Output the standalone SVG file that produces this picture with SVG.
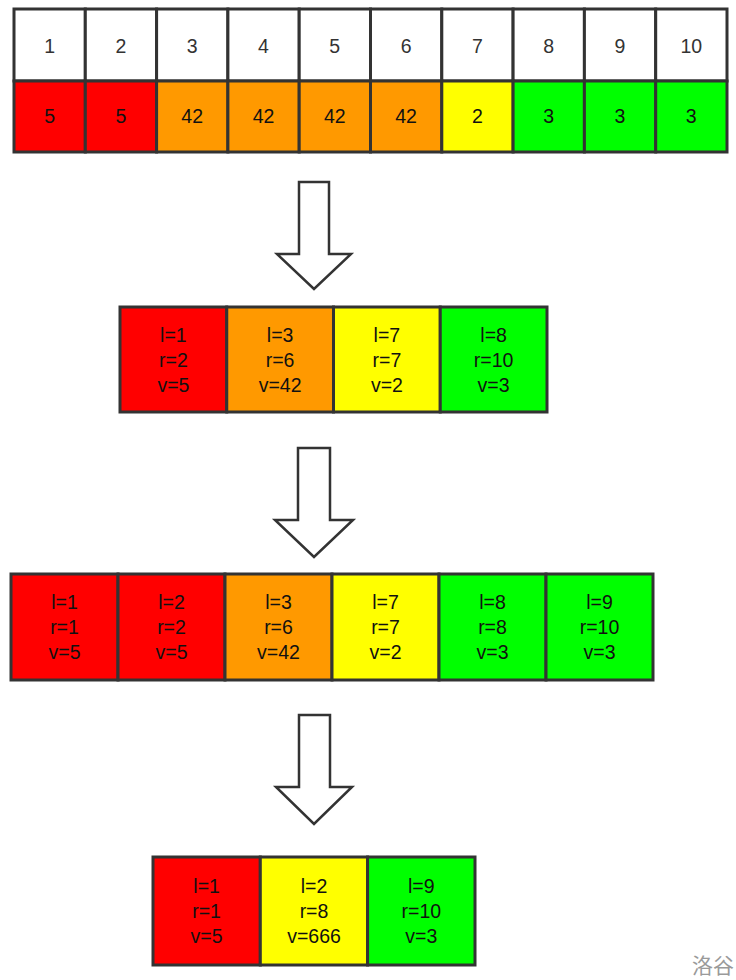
<svg xmlns="http://www.w3.org/2000/svg" width="736" height="980" viewBox="0 0 736 980">
<style>
  .cell { stroke: #333; stroke-width: 3; }
  .w { fill: #ffffff; }
  .red { fill: #ff0000; }
  .org { fill: #ff9900; }
  .yel { fill: #ffff00; }
  .grn { fill: #00ff00; }
  .t { font-family: "Liberation Sans", Arial, sans-serif; font-size: 19.5px; text-anchor: middle; dominant-baseline: central; fill: #111; }
  .th { fill: #333; }
  .arrow { fill: #ffffff; stroke: #333; stroke-width: 2.5; stroke-linejoin: miter; }
  .wm { font-family: "Noto Sans CJK SC", sans-serif; font-size: 21px; fill: #9a9a9a; }
</style>
<rect width="736" height="980" fill="#ffffff"/>

<!-- Top table -->
<g id="array">
  <g id="idx">
    <rect class="cell w" x="14" y="9" width="71.3" height="72"/>
    <rect class="cell w" x="85.3" y="9" width="71.3" height="72"/>
    <rect class="cell w" x="156.6" y="9" width="71.3" height="72"/>
    <rect class="cell w" x="227.9" y="9" width="71.3" height="72"/>
    <rect class="cell w" x="299.2" y="9" width="71.3" height="72"/>
    <rect class="cell w" x="370.5" y="9" width="71.3" height="72"/>
    <rect class="cell w" x="441.8" y="9" width="71.3" height="72"/>
    <rect class="cell w" x="513.1" y="9" width="71.3" height="72"/>
    <rect class="cell w" x="584.4" y="9" width="71.3" height="72"/>
    <rect class="cell w" x="655.7" y="9" width="71.3" height="72"/>
    <text class="t th" x="49.6" y="46">1</text>
    <text class="t th" x="120.9" y="46">2</text>
    <text class="t th" x="192.2" y="46">3</text>
    <text class="t th" x="263.5" y="46">4</text>
    <text class="t th" x="334.8" y="46">5</text>
    <text class="t th" x="406.1" y="46">6</text>
    <text class="t th" x="477.4" y="46">7</text>
    <text class="t th" x="548.7" y="46">8</text>
    <text class="t th" x="620" y="46">9</text>
    <text class="t th" x="691.3" y="46">10</text>
  </g>
  <g id="vals">
    <rect class="cell red" x="14" y="81" width="71.3" height="71"/>
    <rect class="cell red" x="85.3" y="81" width="71.3" height="71"/>
    <rect class="cell org" x="156.6" y="81" width="71.3" height="71"/>
    <rect class="cell org" x="227.9" y="81" width="71.3" height="71"/>
    <rect class="cell org" x="299.2" y="81" width="71.3" height="71"/>
    <rect class="cell org" x="370.5" y="81" width="71.3" height="71"/>
    <rect class="cell yel" x="441.8" y="81" width="71.3" height="71"/>
    <rect class="cell grn" x="513.1" y="81" width="71.3" height="71"/>
    <rect class="cell grn" x="584.4" y="81" width="71.3" height="71"/>
    <rect class="cell grn" x="655.7" y="81" width="71.3" height="71"/>
    <text class="t" x="49.6" y="116">5</text>
    <text class="t" x="120.9" y="116">5</text>
    <text class="t" x="192.2" y="116">42</text>
    <text class="t" x="263.5" y="116">42</text>
    <text class="t" x="334.8" y="116">42</text>
    <text class="t" x="406.1" y="116">42</text>
    <text class="t" x="477.4" y="116">2</text>
    <text class="t" x="548.7" y="116">3</text>
    <text class="t" x="620" y="116">3</text>
    <text class="t" x="691.3" y="116">3</text>
  </g>
</g>

<!-- Connectors: block arrows -->
<g id="connectors">
  <polygon class="arrow" points="299,182 329,182 329,254 351,254 314,289 277,254 299,254"/>
  <polygon class="arrow" points="298,448 330,448 330,520 353,520 314,557 275,520 298,520"/>
  <polygon class="arrow" points="299,715 330,715 330,787 352,787 314,824 276,787 299,787"/>
</g>

<!-- Second row: 4 intervals -->
<g id="step1">
  <g id="s1n1">
    <rect class="cell red" x="120" y="307" width="106.75" height="105"/>
    <text class="t" x="173.4" y="335">l=1</text>
    <text class="t" x="173.4" y="360">r=2</text>
    <text class="t" x="173.4" y="385">v=5</text>
  </g>
  <g id="s1n2">
    <rect class="cell org" x="226.75" y="307" width="106.75" height="105"/>
    <text class="t" x="280.1" y="335">l=3</text>
    <text class="t" x="280.1" y="360">r=6</text>
    <text class="t" x="280.1" y="385">v=42</text>
  </g>
  <g id="s1n3">
    <rect class="cell yel" x="333.5" y="307" width="106.75" height="105"/>
    <text class="t" x="386.9" y="335">l=7</text>
    <text class="t" x="386.9" y="360">r=7</text>
    <text class="t" x="386.9" y="385">v=2</text>
  </g>
  <g id="s1n4">
    <rect class="cell grn" x="440.25" y="307" width="106.75" height="105"/>
    <text class="t" x="493.6" y="335">l=8</text>
    <text class="t" x="493.6" y="360">r=10</text>
    <text class="t" x="493.6" y="385">v=3</text>
  </g>
</g>

<!-- Third row: 6 intervals -->
<g id="step2">
  <g id="s2n1">
    <rect class="cell red" x="11" y="574" width="107" height="106"/>
    <text class="t" x="64.5" y="602">l=1</text>
    <text class="t" x="64.5" y="627">r=1</text>
    <text class="t" x="64.5" y="652">v=5</text>
  </g>
  <g id="s2n2">
    <rect class="cell red" x="118" y="574" width="107" height="106"/>
    <text class="t" x="171.5" y="602">l=2</text>
    <text class="t" x="171.5" y="627">r=2</text>
    <text class="t" x="171.5" y="652">v=5</text>
  </g>
  <g id="s2n3">
    <rect class="cell org" x="225" y="574" width="107" height="106"/>
    <text class="t" x="278.5" y="602">l=3</text>
    <text class="t" x="278.5" y="627">r=6</text>
    <text class="t" x="278.5" y="652">v=42</text>
  </g>
  <g id="s2n4">
    <rect class="cell yel" x="332" y="574" width="107" height="106"/>
    <text class="t" x="385.5" y="602">l=7</text>
    <text class="t" x="385.5" y="627">r=7</text>
    <text class="t" x="385.5" y="652">v=2</text>
  </g>
  <g id="s2n5">
    <rect class="cell grn" x="439" y="574" width="107" height="106"/>
    <text class="t" x="492.5" y="602">l=8</text>
    <text class="t" x="492.5" y="627">r=8</text>
    <text class="t" x="492.5" y="652">v=3</text>
  </g>
  <g id="s2n6">
    <rect class="cell grn" x="546" y="574" width="107" height="106"/>
    <text class="t" x="599.5" y="602">l=9</text>
    <text class="t" x="599.5" y="627">r=10</text>
    <text class="t" x="599.5" y="652">v=3</text>
  </g>
</g>

<!-- Fourth row: 3 intervals -->
<g id="step3">
  <g id="s3n1">
    <rect class="cell red" x="153" y="857" width="107.3" height="108"/>
    <text class="t" x="206.6" y="886">l=1</text>
    <text class="t" x="206.6" y="911">r=1</text>
    <text class="t" x="206.6" y="936">v=5</text>
  </g>
  <g id="s3n2">
    <rect class="cell yel" x="260.3" y="857" width="107.3" height="108"/>
    <text class="t" x="314" y="886">l=2</text>
    <text class="t" x="314" y="911">r=8</text>
    <text class="t" x="314" y="936">v=666</text>
  </g>
  <g id="s3n3">
    <rect class="cell grn" x="367.6" y="857" width="107.4" height="108"/>
    <text class="t" x="421.3" y="886">l=9</text>
    <text class="t" x="421.3" y="911">r=10</text>
    <text class="t" x="421.3" y="936">v=3</text>
  </g>
</g>

<text class="wm" x="692" y="973">洛谷</text>
</svg>
